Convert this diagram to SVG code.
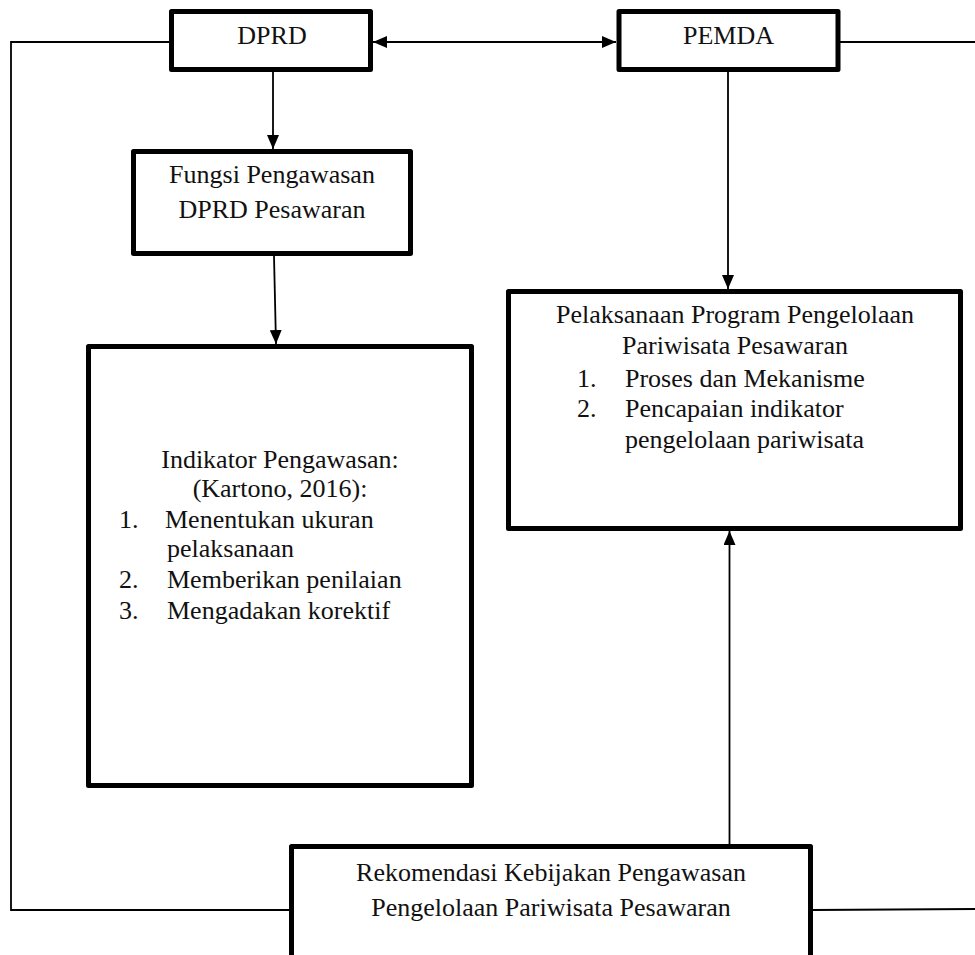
<svg xmlns="http://www.w3.org/2000/svg" width="975" height="955" viewBox="0 0 975 955">
<style>
.box{fill:#fff;stroke:#000;stroke-width:5;stroke-linejoin:round}
.con{fill:none;stroke:#000;stroke-width:1.8}
text{font-family:"Liberation Serif","Times New Roman",serif;font-size:26px;fill:#111}
.c{text-anchor:middle}
</style>
<defs>
<marker id="ah" viewBox="0 0 14 12" refX="14" refY="6" markerWidth="14" markerHeight="12" markerUnits="userSpaceOnUse" orient="auto-start-reverse">
<path d="M0,0 L14,6 L0,12 z" fill="#000"/>
</marker>
</defs>
<rect width="975" height="955" fill="#fff"/>
<g id="connectors">
<line class="con" x1="373" y1="42" x2="616" y2="42" marker-start="url(#ah)" marker-end="url(#ah)"/>
<line class="con" x1="273" y1="72" x2="273" y2="149" marker-end="url(#ah)"/>
<line class="con" x1="274" y1="256" x2="276" y2="344" marker-end="url(#ah)"/>
<line class="con" x1="728" y1="72" x2="728" y2="289" marker-end="url(#ah)"/>
<line class="con" x1="729.5" y1="844" x2="729.5" y2="531" marker-end="url(#ah)"/>
<polyline class="con" points="169,42 11,42 11,910 289,910"/>
<line class="con" x1="840" y1="42" x2="975" y2="42"/>
<line class="con" x1="813" y1="910" x2="975" y2="909"/>
</g>
<g id="dprd">
<rect class="box" x="171.5" y="11.5" width="199" height="58"/>
<text class="c" x="272" y="44">DPRD</text>
</g>
<g id="pemda">
<rect class="box" x="619" y="11.5" width="219" height="58"/>
<text class="c" x="728.5" y="44">PEMDA</text>
</g>
<g id="fungsi">
<rect class="box" x="133.5" y="151.5" width="277" height="102"/>
<text class="c" x="272" y="183">Fungsi Pengawasan</text>
<text class="c" x="272" y="218">DPRD Pesawaran</text>
</g>
<g id="indikator">
<rect class="box" x="88.5" y="346.5" width="383" height="439"/>
<text class="c" x="280" y="468">Indikator Pengawasan:</text>
<text class="c" x="280" y="497">(Kartono, 2016):</text>
<text x="119" y="528">1.</text>
<text x="165" y="528">Menentukan ukuran</text>
<text x="167" y="557">pelaksanaan</text>
<text x="119" y="588">2.</text>
<text x="167" y="588">Memberikan penilaian</text>
<text x="119" y="619">3.</text>
<text x="167" y="619">Mengadakan korektif</text>
</g>
<g id="pelaksanaan">
<rect class="box" x="508.5" y="291.5" width="452" height="237"/>
<text class="c" x="735" y="323">Pelaksanaan Program Pengelolaan</text>
<text class="c" x="735" y="354">Pariwisata Pesawaran</text>
<text x="577" y="387">1.</text>
<text x="625" y="387">Proses dan Mekanisme</text>
<text x="577" y="417">2.</text>
<text x="625" y="417">Pencapaian indikator</text>
<text x="625" y="448">pengelolaan pariwisata</text>
</g>
<g id="rekomendasi">
<rect class="box" x="291.5" y="846.5" width="519" height="130"/>
<text class="c" x="551" y="881">Rekomendasi Kebijakan Pengawasan</text>
<text class="c" x="551" y="916">Pengelolaan Pariwisata Pesawaran</text>
</g>
</svg>
